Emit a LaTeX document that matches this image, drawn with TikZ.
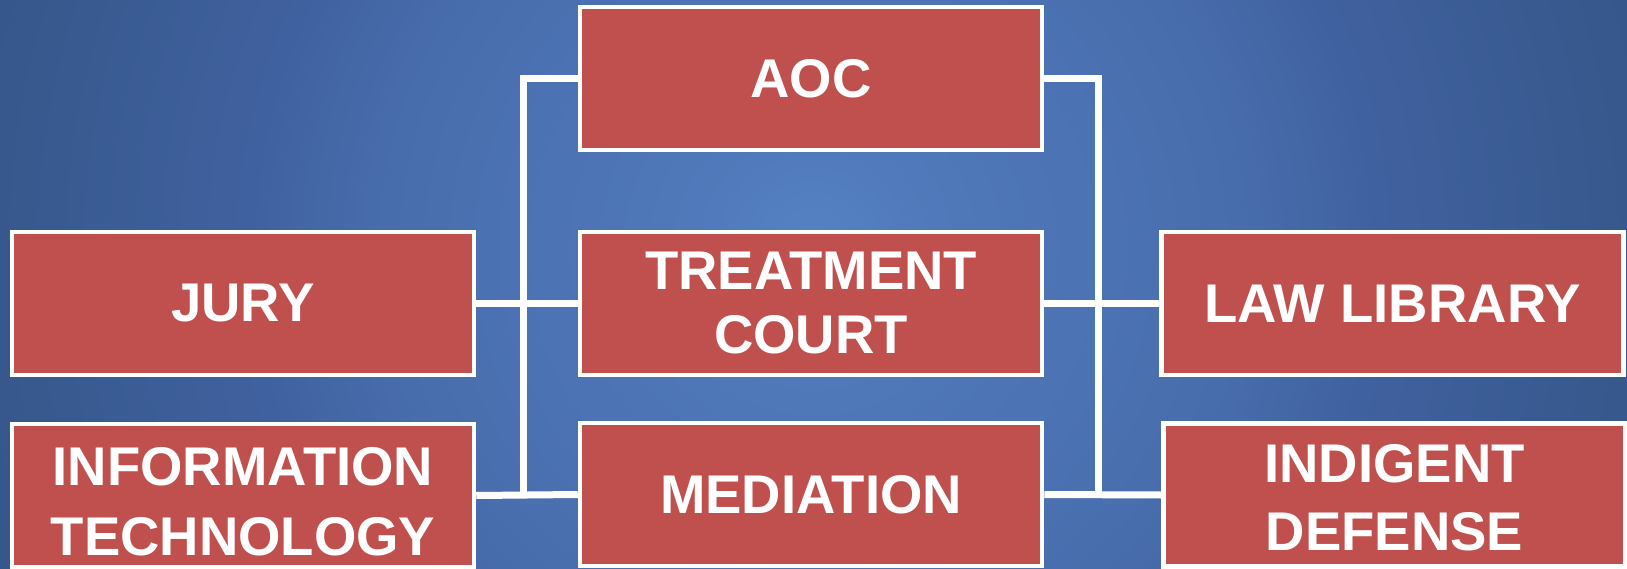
\documentclass[tikz,border=0pt]{standalone}
\usepackage{fontspec}
\setmainfont{Liberation Sans}
\definecolor{boxred}{HTML}{C0504D}
\pgfdeclareradialshading{bgshade}{\pgfpoint{0bp}{0bp}}{%
  color(0bp)=(rgb,255:red,86;green,130;blue,196);
  color(6bp)=(rgb,255:red,80;green,122;blue,187);
  color(25bp)=(rgb,255:red,72;green,109;blue,173);
  color(33bp)=(rgb,255:red,64;green,97;blue,159);
  color(48bp)=(rgb,255:red,54;green,88;blue,140);
  color(60bp)=(rgb,255:red,50;green,82;blue,132)}
\pgfdeclarelayer{bglayer}
\pgfdeclarelayer{linelayer}
\pgfsetlayers{bglayer,linelayer,main}
\newcommand{\twolines}[3]{\raisebox{#1}[0pt][0pt]{\begin{tabular}{@{}c@{}}#2\\#3\end{tabular}}}
\begin{document}
\begin{tikzpicture}[x=1pt,y=-1pt,
  orgbox/.style={draw=white, line width=4.5pt, fill=boxred, minimum width=462pt,
    minimum height=143pt, inner sep=0pt, text=white,
    font=\fontsize{54.5}{64}\selectfont\bfseries, align=center},
  conn/.style={draw=white, line width=7pt}]
\useasboundingbox (0,0) rectangle (1627,569);
\begin{pgfonlayer}{bglayer}
\begin{scope}
\clip (0,0) rectangle (1627,569);
\pgftransformshift{\pgfpoint{813pt}{-250pt}}
\pgftransformscale{17}
\pgflowlevelsynccm
\pgfuseshading{bgshade}
\end{scope}
\end{pgfonlayer}

\node[orgbox] (aoc)  at (811,78.5)   {AOC};
\node[orgbox] (jury) at (243,303.5)  {JURY};
\node[orgbox] (tc)   at (811,303.5)  {TREATMENT\\COURT};
\node[orgbox] (ll)   at (1392.5,303.5) {LAW LIBRARY};
\node[orgbox, font=\fontsize{54.5}{70}\selectfont\bfseries] (it) at (243,495.5) {\twolines{-17pt}{INFORMATION}{TECHNOLOGY}};
\node[orgbox] (med)  at (811,494.5)  {MEDIATION};
\node[orgbox, font=\fontsize{54.5}{68}\selectfont\bfseries] (id) at (1394.5,495) {\twolines{-14.5pt}{INDIGENT}{DEFENSE}};

\coordinate (lb) at (523,495);
\coordinate (rb) at (1098,495);

\begin{pgfonlayer}{linelayer}
\draw[conn] (aoc.west) -| (lb);
\draw[conn] (aoc.east) -| (rb);
\draw[conn] (jury.east) -- (tc.west);
\draw[conn] (it.east) -- (med.west);
\draw[conn] (tc.east) -- (ll.west);
\draw[conn] (med.east) -- (id.west);
\end{pgfonlayer}
\end{tikzpicture}
\end{document}
